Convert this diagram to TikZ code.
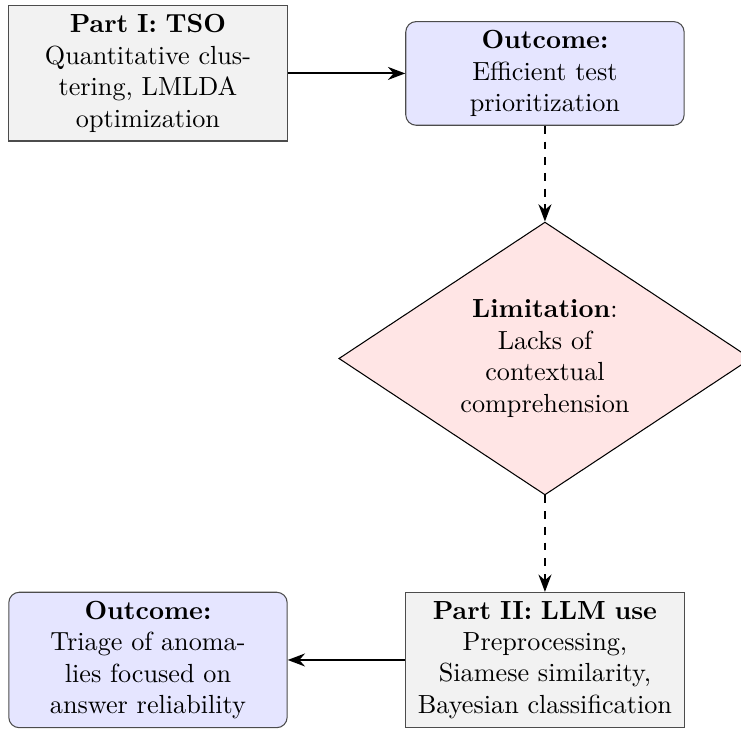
\documentclass[tikz,border=0pt]{standalone}
\usepackage{tikz}
\usetikzlibrary{shapes.geometric,arrows.meta}

\begin{document}
\begin{tikzpicture}[
		partbox/.style={draw=black!70, fill=gray!10, text width=3.5cm, align=center},
		outcomebox/.style={partbox, rounded corners, fill=blue!10},
		limitbox/.style={draw, diamond, fill=red!10, aspect=1.5, inner sep=0pt, text width=2.5cm, align=center, minimum width=5.53cm, minimum height=3.66cm},
		flow/.style={thick, -{Stealth}}]
			%%%%% START %%%%%
			
			\useasboundingbox (0, 0) rectangle (9.94, -9.766);
			
			\node[partbox] (tso) at (1.985, -0.985) {\textbf{Part I: TSO}\\ Quantitative clustering, LMLDA optimization};
			\node[outcomebox] (out1) at (7.31, -0.985) {\textbf{Outcome:}\\ Efficient test prioritization};
			
			\node[limitbox] (lim) at (7.31, -4.809) {\textbf{Limitation}:\\ Lacks of contextual comprehension};
			
			\node[partbox] (llm) at (7.31, -8.853) {\textbf{Part II: LLM use}\\ Preprocessing,\\ Siamese similarity,\\ Bayesian classification};
			\node[outcomebox] (out2) at (1.985, -8.853) {\textbf{Outcome:}\\ Triage of anomalies focused on answer reliability};
			
			\draw[flow] (tso) -- (out1);
			\draw[flow, dashed] (out1) -- (lim);
			\draw[flow, dashed] (lim) -- (llm);
			\draw[flow] (llm) -- (out2);
			
			%%%%% END %%%%%
		\end{tikzpicture}
\end{document}
